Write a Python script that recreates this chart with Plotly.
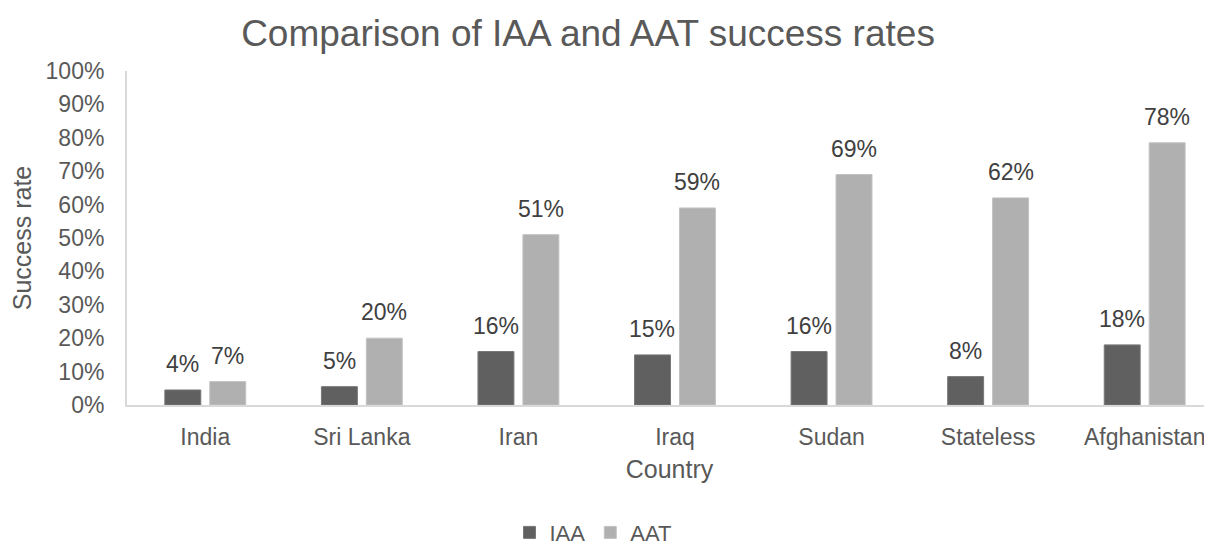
import plotly.graph_objects as go

countries = ["India", "Sri Lanka", "Iran", "Iraq", "Sudan", "Stateless", "Afghanistan"]
iaa = [0.045, 0.055, 0.16, 0.15, 0.16, 0.085, 0.18]
aat = [0.07, 0.20, 0.51, 0.59, 0.69, 0.62, 0.785]
iaa_labels = ["4%", "5%", "16%", "15%", "16%", "8%", "18%"]
aat_labels = ["7%", "20%", "51%", "59%", "69%", "62%", "78%"]
y_ticks = [i / 10 for i in range(11)]

FONT = "Liberation Sans, Arial, sans-serif"
GREY = "#595959"
W, H = 1204, 536  # page body has an 8px margin

fig = go.Figure()
fig.add_bar(name="IAA", x=countries, y=iaa,
            marker=dict(color="#606060", line=dict(color="#787878", width=1)))
fig.add_bar(name="AAT", x=countries, y=aat,
            marker=dict(color="#b0b0b0", line=dict(color="#c2c2c2", width=1)))

annotations = []
for series, labels, shift in ((iaa, iaa_labels, -22.5), (aat, aat_labels, 22.5)):
    for c, v, t in zip(countries, series, labels):
        annotations.append(dict(x=c, y=v, xref="x", yref="y", text=t, showarrow=False,
                                xshift=shift, yshift=11, yanchor="bottom", xanchor="center",
                                font=dict(size=23, color="#404040", family=FONT)))

fig.update_layout(
    width=W, height=H,
    margin=dict(l=119, r=0, t=63, b=139, autoexpand=False),
    paper_bgcolor="white", plot_bgcolor="white",
    font=dict(family=FONT, color=GREY),
    title=dict(text="Comparison of IAA and AAT success rates", x=580 / W, xref="container",
               y=1 - 25 / H, yref="container", yanchor="middle", xanchor="center",
               font=dict(size=37, color=GREY, family=FONT)),
    barmode="group", bargap=0.426, bargroupgap=0.2,
    showlegend=True,
    legend=dict(orientation="h", xref="paper", yref="paper", x=(593 - 127) / 1085, y=-0.382,
                xanchor="center", yanchor="middle", font=dict(size=22, color=GREY),
                itemwidth=30, traceorder="normal"),
    annotations=annotations,
)
fig.update_xaxes(range=[-0.5, 6.43], showgrid=False, showline=True, linecolor="#d9d9d9", linewidth=2,
                 ticks="", tickfont=dict(size=23, color=GREY), ticklabelstandoff=10,
                 title=dict(text="Country", font=dict(size=25, color=GREY), standoff=12))
fig.update_yaxes(range=[0, 1], tickvals=y_ticks, tickformat=".0%", showgrid=False, zeroline=False,
                 showline=True, linecolor="#d9d9d9", linewidth=2, ticks="",
                 tickfont=dict(size=23, color=GREY), ticklabelstandoff=16,
                 title=dict(text="Success rate", font=dict(size=25, color=GREY), standoff=10))

fig.write_html("out.html")
